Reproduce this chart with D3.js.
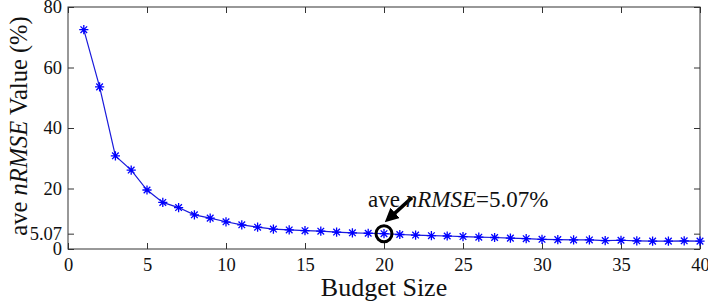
<!DOCTYPE html>
<html>
<head>
<meta charset="utf-8">
<script src="https://cdn.jsdelivr.net/npm/d3@7"></script>
<style>
  body { margin: 0; background: #fff; }
</style>
</head>
<body>
<div id="chart"></div>
<script>
let width = 708;
let height = 303;
let margin = {top: 7, right: 8, bottom: 54, left: 68};
let serif = '"Liberation Serif", "DejaVu Serif", serif';

// budget sizes and the ave nRMSE
let budget = d3.range(1, 41);
let nrmse = [72.5, 53.6, 30.8, 26.1, 19.5, 15.4, 13.7, 11.3, 10.2, 9.0,
             8.0, 7.2, 6.6, 6.3, 6.05, 5.9, 5.6, 5.35, 5.2, 5.07,
             4.8, 4.6, 4.4, 4.3, 4.1, 3.9, 3.8, 3.6, 3.4, 3.2,
             3.1, 3.0, 3.0, 2.8, 2.9, 2.7, 2.6, 2.6, 2.7, 2.6];
let xTicks = [0, 5, 10, 15, 20, 25, 30, 35, 40];
let yTicks = [0, 5.07, 20, 40, 60, 80];
let markIdx = 19; // budget 20

let dataset = budget.map((b, i) => ({budget: b, value: nrmse[i]}));

let w = width - margin.left - margin.right;
let h = height - margin.top - margin.bottom;

let xScale = d3.scaleLinear().domain([0, 40]).range([0, w]);
let yScale = d3.scaleLinear().domain([0, 80]).range([h, 0]);

let svg = d3.select("#chart").append("svg")
    .attr("width", width)
    .attr("height", height);

let g = svg.append("g").attr("transform", `translate(${margin.left},${margin.top})`);

// axes, MATLAB style: ticks pointing inward on all four sides
let axisStyle = sel => {
    sel.attr("font-family", null).attr("font-size", null);
    sel.select(".domain").remove();
    sel.selectAll("line").attr("stroke", "#333");
    sel.selectAll("text").attr("fill", "#111")
        .style("font-family", serif).style("font-size", "18.5px");
};

g.append("g").attr("transform", `translate(0,${h})`)
    .call(d3.axisBottom(xScale).tickValues(xTicks).tickSize(-6).tickPadding(9))
    .call(axisStyle);
g.append("g")
    .call(d3.axisTop(xScale).tickValues(xTicks).tickSize(-6).tickFormat(""))
    .call(axisStyle);
g.append("g")
    .call(d3.axisLeft(yScale).tickValues(yTicks).tickSize(-6).tickPadding(6)
        .tickFormat(d => d === 5.07 ? "5.07" : d3.format("d")(d)))
    .call(axisStyle);
g.append("g").attr("transform", `translate(${w},0)`)
    .call(d3.axisRight(yScale).tickValues(yTicks).tickSize(-6).tickFormat(""))
    .call(axisStyle);

g.append("rect")
    .attr("width", w).attr("height", h)
    .attr("fill", "none").attr("stroke", "#333").attr("stroke-width", 1);

// line
let line = d3.line()
    .x(d => xScale(d.budget))
    .y(d => yScale(d.value));

g.append("path")
    .datum(dataset)
    .attr("fill", "none")
    .attr("stroke", "#1a1adb")
    .attr("stroke-width", 1.2)
    .attr("d", line);

// asterisk markers
let r = 4.6, r2 = r * 0.72;
let star = `M${-r},0L${r},0M0,${-r}L0,${r}M${-r2},${-r2}L${r2},${r2}M${-r2},${r2}L${r2},${-r2}`;
g.selectAll(".pt").data(dataset).enter().append("path")
    .attr("class", "pt")
    .attr("transform", d => `translate(${xScale(d.budget)},${yScale(d.value)})`)
    .attr("d", star)
    .attr("stroke", "#0000ff")
    .attr("stroke-width", 1.3)
    .attr("fill", "none");

// annotation: circle + arrow + text
let mk = dataset[markIdx];
let cx = xScale(mk.budget), cy = yScale(mk.value);
g.append("circle")
    .attr("cx", cx).attr("cy", cy).attr("r", 8)
    .attr("fill", "none").attr("stroke", "#000").attr("stroke-width", 3);

svg.append("defs").append("marker")
    .attr("id", "arrow")
    .attr("viewBox", "0 0 10 10")
    .attr("refX", 4).attr("refY", 5)
    .attr("markerWidth", 4).attr("markerHeight", 4)
    .attr("orient", "auto")
    .append("path").attr("d", "M0,0L10,5L0,10z").attr("fill", "#000");

g.append("line")
    .attr("x1", cx + 28).attr("y1", cy - 36)
    .attr("x2", cx + 7).attr("y2", cy - 17)
    .attr("stroke", "#000").attr("stroke-width", 3.5)
    .attr("marker-end", "url(#arrow)");

let ann = g.append("text")
    .attr("x", cx - 16).attr("y", cy - 27)
    .attr("fill", "#111")
    .style("font-family", serif)
    .style("font-size", "23px");
ann.append("tspan").text("ave ");
ann.append("tspan").attr("font-style", "italic").text("nRMSE");
ann.append("tspan").text("=" + mk.value.toFixed(2) + "%");

// axis titles
svg.append("text")
    .attr("x", margin.left + w / 2).attr("y", height - 7)
    .attr("text-anchor", "middle")
    .attr("fill", "#111")
    .style("font-family", serif)
    .style("font-size", "26px")
    .text("Budget Size");

let yl = svg.append("text")
    .attr("transform", `translate(27,126) rotate(-90)`)
    .attr("text-anchor", "middle")
    .attr("fill", "#111")
    .style("font-family", serif)
    .style("font-size", "24.5px");
yl.append("tspan").text("ave ");
yl.append("tspan").attr("font-style", "italic").text("nRMSE");
yl.append("tspan").text(" Value (%)");
</script>
</body>
</html>
